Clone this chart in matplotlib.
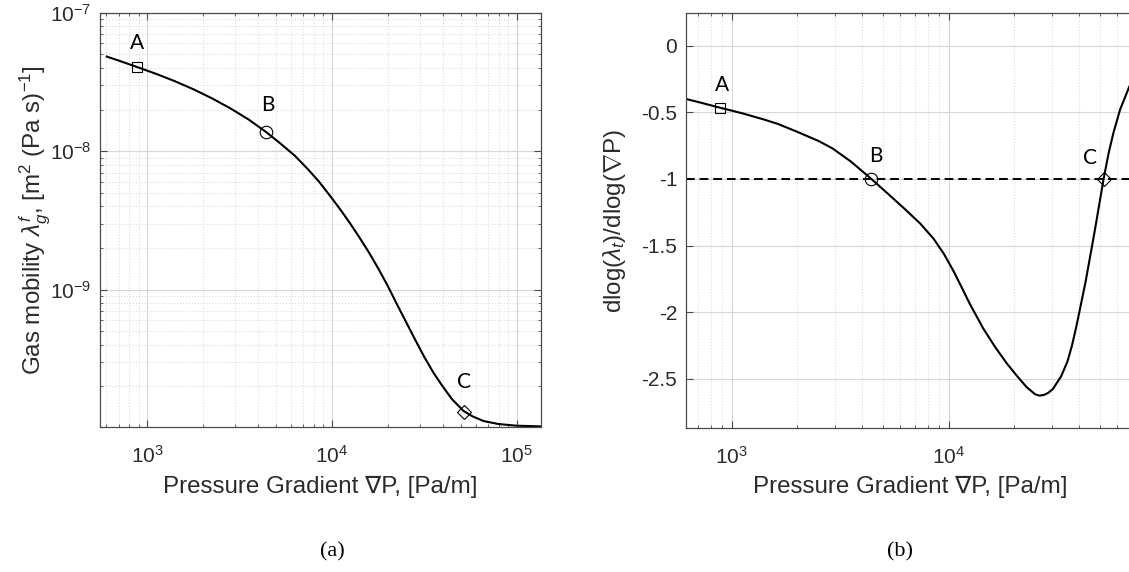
import numpy as np
import matplotlib
matplotlib.use("Agg")
import matplotlib.pyplot as plt
from matplotlib.ticker import LogLocator, FuncFormatter, NullFormatter, FixedLocator

plt.rcParams["font.family"] = ["Liberation Sans", "DejaVu Sans"]
plt.rcParams["mathtext.fontset"] = "custom"
plt.rcParams["mathtext.rm"] = "Liberation Sans"
plt.rcParams["mathtext.it"] = "Liberation Sans:italic"
plt.rcParams["mathtext.bf"] = "Liberation Sans:bold"
plt.rcParams["axes.unicode_minus"] = False

# (a) gas mobility vs pressure gradient
grad_a = [604, 708, 883, 1122, 1413, 1778, 2239, 2818, 3548, 4406, 5248, 6310,
          7413, 8511, 10000, 11220, 12590, 14130, 15850, 17780, 19950, 22390,
          25120, 28180, 31620, 35480, 39810, 44670, 51640, 57540, 66070, 79430,
          100000, 136100]
mob_a = [4.82e-8, 4.49e-8, 4.05e-8, 3.61e-8, 3.20e-8, 2.80e-8, 2.41e-8, 2.04e-8,
         1.69e-8, 1.374e-8, 1.14e-8, 9.25e-9, 7.41e-9, 6.03e-9, 4.57e-9, 3.72e-9,
         2.99e-9, 2.37e-9, 1.86e-9, 1.43e-9, 1.08e-9, 7.94e-10, 5.89e-10,
         4.37e-10, 3.27e-10, 2.51e-10, 2.00e-10, 1.62e-10, 1.33e-10, 1.22e-10,
         1.127e-10, 1.072e-10, 1.042e-10, 1.030e-10]

# (b) log-derivative vs pressure gradient
grad_b = [604, 708, 885, 1122, 1413, 1637, 1995, 2512, 2911, 3548, 4406, 5248,
          6281, 7413, 8551, 9550, 10540, 11480, 12530, 14450, 16410, 18620,
          20650, 22910, 25120, 26300, 27540, 28840, 30340, 33110, 35400, 37150,
          39000, 42950, 47210, 52000, 54950, 57810, 61940, 68230, 74130]
dlog_b = [-0.397, -0.425, -0.466, -0.508, -0.555, -0.588, -0.645, -0.715, -0.77,
          -0.87, -1.0, -1.11, -1.225, -1.335, -1.45, -1.565, -1.69, -1.81, -1.935,
          -2.12, -2.26, -2.385, -2.475, -2.56, -2.615, -2.625, -2.62, -2.605,
          -2.575, -2.48, -2.37, -2.25, -2.10, -1.77, -1.40, -1.0, -0.80, -0.65,
          -0.48, -0.31, -0.19]

pt_labels = ["A", "B", "C"]
pt_markers = ["s", "o", "D"]
pt_x = [885, 4406, 52000]
pt_a = [4.05e-8, 1.374e-8, 1.31e-10]
pt_b = [-0.466, -1.0, -1.0]

W, H = 1129, 572
fig = plt.figure(figsize=(W / 100, H / 100), dpi=100)

ink = "#2b2b2b"
grid_major = "#d6d6d6"
grid_minor = "#dcdcdc"
msize = {"s": 7.0, "o": 9.0, "D": 7.0}


def style(ax, logy):
    for s in ax.spines.values():
        s.set_color("#4a4a4a")
        s.set_linewidth(0.9)
    ax.tick_params(which="both", direction="in", top=True, right=True,
                   colors="#4a4a4a", labelcolor=ink, labelsize=15)
    ax.tick_params(which="major", length=5)
    ax.tick_params(which="minor", length=2.5)
    ax.grid(True, which="major", color=grid_major, lw=0.8, ls="-")
    ax.grid(True, which="minor", axis="x", color=grid_minor, lw=0.8, ls=":")
    if logy:
        ax.grid(True, which="minor", axis="y", color=grid_minor, lw=0.8, ls=":")
    ax.set_axisbelow(True)


# panel (a)
ax1 = fig.add_axes([100 / W, 1 - 426.7 / H, 440.7 / W, 414 / H])
ax1.set_xscale("log")
ax1.set_yscale("log")
ax1.plot(grad_a, mob_a, color="black", lw=1.5)
for lab, m, x, y, off in zip(pt_labels, pt_markers, pt_x, pt_a,
                             [(0, 24), (2, 27), (0, 30)]):
    ax1.plot(x, y, marker=m, ms=msize[m], mfc="none", mec="black", mew=0.8, ls="none")
    ax1.annotate(lab, (x, y), xytext=off, textcoords="offset pixels",
                 ha="center", va="center", fontsize=15, family="Lato")
ax1.set_xlim(555, 1.35e5)
ax1.set_ylim(1.025e-10, 1e-7)
ax1.xaxis.set_minor_locator(LogLocator(subs=np.arange(2, 10)))
ax1.yaxis.set_minor_locator(LogLocator(subs=np.arange(2, 10)))
ax1.xaxis.set_minor_formatter(NullFormatter())
ax1.yaxis.set_minor_formatter(NullFormatter())
style(ax1, True)
ax1.tick_params(axis="y", pad=6)
ax1.tick_params(axis="x", pad=13)
ax1.set_xlabel("Pressure Gradient \u2207P, [Pa/m]", fontsize=17.4, color=ink, va="center")
ax1.xaxis.set_label_coords(0.5, -0.145)
ax1.set_ylabel(r"Gas mobility $\lambda_g^f$, [m$^2$ (Pa s)$^{-1}$]",
               fontsize=17.4, color=ink, va="center")
ax1.yaxis.set_label_coords((35 - 100) / 440.7, 0.5)

# panel (b)
ax2 = fig.add_axes([685.7 / W, 1 - 428.3 / H, 469.5 / W, 415.3 / H])
ax2.set_xscale("log")
ax2.plot(grad_b, dlog_b, color="black", lw=1.5)
ax2.axhline(-1, color="black", lw=1.4, dashes=(4.5, 2.5))
for lab, m, x, y, off in zip(pt_labels, pt_markers, pt_x, pt_b,
                             [(2, 23), (4, 23), (-14, 21)]):
    ax2.plot(x, y, marker=m, ms=msize[m], mfc="none", mec="black", mew=0.8, ls="none")
    ax2.annotate(lab, (x, y), xytext=off, textcoords="offset pixels",
                 ha="center", va="center", fontsize=15, family="Lato")
ax2.set_xlim(612, 9.0e4)
ax2.set_ylim(-2.87, 0.245)
ax2.yaxis.set_major_locator(FixedLocator([0, -0.5, -1, -1.5, -2, -2.5]))
ax2.yaxis.set_major_formatter(FuncFormatter(lambda v, _: f"{v:g}"))
ax2.xaxis.set_minor_locator(LogLocator(subs=np.arange(2, 10)))
ax2.xaxis.set_minor_formatter(NullFormatter())
style(ax2, False)
ax2.tick_params(axis="y", pad=6)
ax2.tick_params(axis="x", pad=13)
ax2.set_xlabel("Pressure Gradient \u2207P, [Pa/m]", fontsize=17.4, color=ink, va="center")
ax2.xaxis.set_label_coords((910 - 685.7) / 469.5, -0.1406)
ax2.set_ylabel(r"dlog($\lambda_t$)/dlog($\nabla$P)", fontsize=17.4, color=ink, va="center")
ax2.yaxis.set_label_coords((615 - 685.7) / 469.5, 0.5)

fig.text(332 / W, 1 - 552 / H, "(a)", family="Liberation Serif", fontsize=16,
         ha="center", va="center", color="black")
fig.text(900 / W, 1 - 552 / H, "(b)", family="Liberation Serif", fontsize=16,
         ha="center", va="center", color="black")

fig.savefig("out.png", dpi=100)
